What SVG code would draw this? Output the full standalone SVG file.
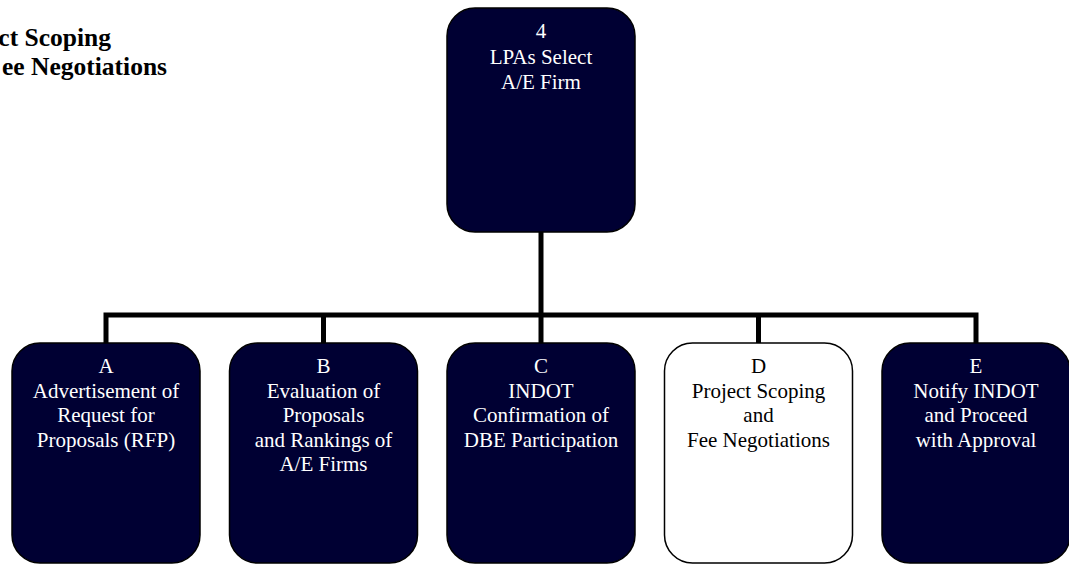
<svg xmlns="http://www.w3.org/2000/svg" width="1069" height="565" viewBox="0 0 1069 565">
<defs>
<style>
.box{fill:#000033;stroke:#000;stroke-width:1.5}
.wbox{fill:#fff;stroke:#000;stroke-width:1.5}
.t{font-size:21px;fill:#fff;text-anchor:middle}
.tk{fill:#000}
.hd{font-size:25.5px;font-weight:bold;fill:#000;text-anchor:end}
.c{fill:none;stroke:#000;stroke-width:5;stroke-linejoin:miter;stroke-linecap:butt}
</style>
</defs>
<rect width="1069" height="565" fill="#fff"/>
<g id="title" font-family="Liberation Serif, Times New Roman, serif">
<text class="hd" x="111" y="46">ct Scoping</text>
<text class="hd" x="167" y="75">ee Negotiations</text>
</g>
<g id="connectors">
<path class="c" d="M541 232 V315"/>
<path class="c" d="M106 343 V315 H976 V343"/>
<path class="c" d="M323.5 315 V343"/>
<path class="c" d="M541 315 V343"/>
<path class="c" d="M758.5 315 V343"/>
</g>
<g font-family="Liberation Serif, Times New Roman, serif">
<g id="node4">
<rect class="box" x="447" y="8" width="188" height="224" rx="28"/>
<g class="t">
<text x="541" y="38">4</text>
<text x="541" y="63.5">LPAs Select</text>
<text x="541" y="89">A/E Firm</text>
</g>
</g>
<g id="nodeA">
<rect class="box" x="12" y="343" width="188" height="220" rx="28"/>
<g class="t">
<text x="106" y="373">A</text>
<text x="106" y="397.5">Advertisement of</text>
<text x="106" y="422">Request for</text>
<text x="106" y="446.5">Proposals (RFP)</text>
</g>
</g>
<g id="nodeB">
<rect class="box" x="229.5" y="343" width="188" height="220" rx="28"/>
<g class="t">
<text x="323.5" y="373">B</text>
<text x="323.5" y="397.5">Evaluation of</text>
<text x="323.5" y="422">Proposals</text>
<text x="323.5" y="446.5">and Rankings of</text>
<text x="323.5" y="471">A/E Firms</text>
</g>
</g>
<g id="nodeC">
<rect class="box" x="447" y="343" width="188" height="220" rx="28"/>
<g class="t">
<text x="541" y="373">C</text>
<text x="541" y="397.5">INDOT</text>
<text x="541" y="422">Confirmation of</text>
<text x="541" y="446.5">DBE Participation</text>
</g>
</g>
<g id="nodeD">
<rect class="wbox" x="664.5" y="343" width="188" height="220" rx="28"/>
<g class="t tk">
<text x="758.5" y="373">D</text>
<text x="758.5" y="397.5">Project Scoping</text>
<text x="758.5" y="422">and</text>
<text x="758.5" y="446.5">Fee Negotiations</text>
</g>
</g>
<g id="nodeE">
<rect class="box" x="882" y="343" width="188" height="220" rx="28"/>
<g class="t">
<text x="976" y="373">E</text>
<text x="976" y="397.5">Notify INDOT</text>
<text x="976" y="422">and Proceed</text>
<text x="976" y="446.5">with Approval</text>
</g>
</g>
</g>
</svg>
